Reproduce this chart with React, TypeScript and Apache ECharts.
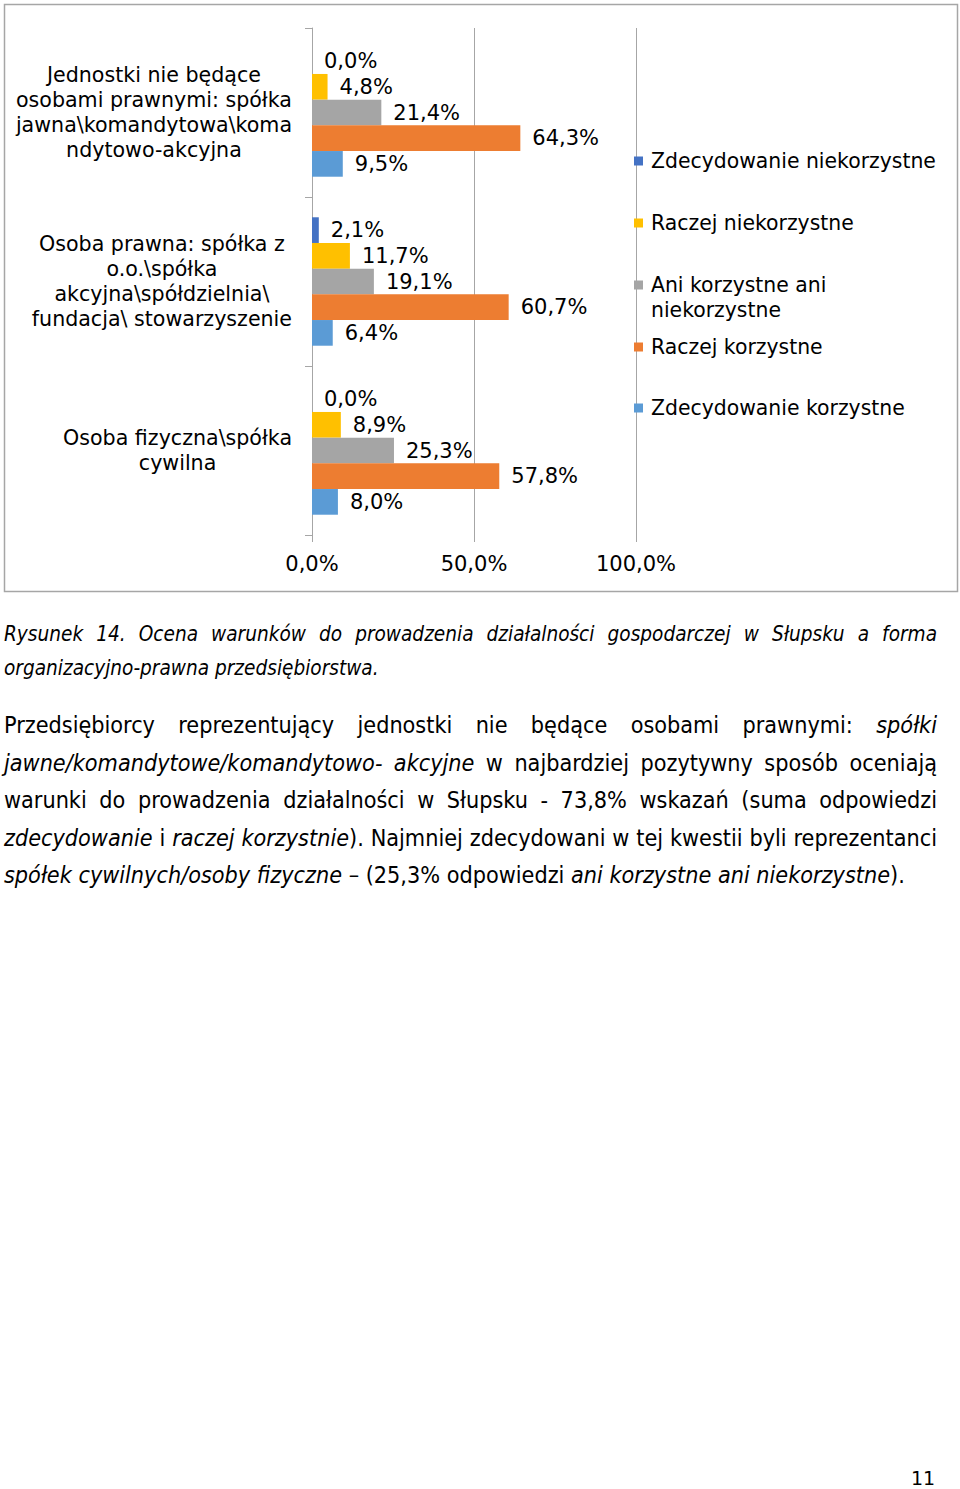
import React, { useEffect, useRef } from "react";
import * as echarts from "echarts";

// ---- data ----
const categories = [
  "Osoba fizyczna\\spółka\ncywilna",
  "Osoba prawna: spółka z\no.o.\\spółka\nakcyjna\\spółdzielnia\\\nfundacja\\ stowarzyszenie",
  "Jednostki nie będące\nosobami prawnymi: spółka\njawna\\komandytowa\\koma\nndytowo-akcyjna",
];
const seriesNames = [
  "Zdecydowanie niekorzystne",
  "Raczej niekorzystne",
  "Ani korzystne ani niekorzystne",
  "Raczej korzystne",
  "Zdecydowanie korzystne",
];
const legendLabels: Record<string, string> = {
  "Ani korzystne ani niekorzystne": "\nAni korzystne ani\nniekorzystne",
};
const zdecydowanieNiekorzystne = [0.0, 2.1, 0.0];
const raczejNiekorzystne = [8.9, 11.7, 4.8];
const aniKorzystneAniNiekorzystne = [25.3, 19.1, 21.4];
const raczejKorzystne = [57.8, 60.7, 64.3];
const zdecydowanieKorzystne = [8.0, 6.4, 9.5];
const seriesValues = [
  zdecydowanieNiekorzystne,
  raczejNiekorzystne,
  aniKorzystneAniNiekorzystne,
  raczejKorzystne,
  zdecydowanieKorzystne,
];
const xTicks = [0, 50, 100];

const colors = ["#4472C4", "#FFC000", "#A5A5A5", "#ED7D31", "#5B9BD5"];
const legendTops = [161, 223, 285, 347, 408];

const FONT = "'DejaVu Sans', Verdana, sans-serif";
const fmt = (v: number) => v.toFixed(1).replace(".", ",") + "%";

const captionLines = [
  "Rysunek 14. Ocena warunków do prowadzenia działalności gospodarczej w Słupsku a forma",
  "organizacyjno-prawna przedsiębiorstwa.",
];

type Seg = [string, boolean];
const paragraphLines: Seg[][] = [
  [["Przedsiębiorcy reprezentujący jednostki nie będące osobami prawnymi: ", false], ["spółki", true]],
  [["jawne/komandytowe/komandytowo- akcyjne", true], [" w najbardziej pozytywny sposób oceniają", false]],
  [["warunki do prowadzenia działalności w Słupsku - 73,8% wskazań (suma odpowiedzi", false]],
  [
    ["zdecydowanie", true],
    [" i ", false],
    ["raczej korzystnie", true],
    ["). Najmniej zdecydowani w tej kwestii byli reprezentanci", false],
  ],
  [
    ["spółek cywilnych/osoby fizyczne", true],
    [" – (25,3% odpowiedzi ", false],
    ["ani korzystne ani niekorzystne", true],
    [").", false],
  ],
];

function Chart() {
  const ref = useRef<HTMLDivElement>(null);
  useEffect(() => {
    if (!ref.current) return;
    const chart = echarts.init(ref.current, undefined, { renderer: "svg" });
    const gridColor = "#a6a6a6";
    chart.setOption({
      animation: false,
      backgroundColor: "#ffffff",
      textStyle: { fontFamily: FONT },
      graphic: [
        {
          type: "rect",
          shape: { x: 4.5, y: 4.5, width: 953, height: 587 },
          style: { fill: "none", stroke: "#a6a6a6", lineWidth: 1.5 },
          silent: true,
        },
      ],
      grid: { left: 312, right: 324, top: 28, bottom: 65, containLabel: false },
      xAxis: {
        type: "value",
        min: xTicks[0],
        max: xTicks[xTicks.length - 1],
        interval: xTicks[1] - xTicks[0],
        axisLine: { show: false },
        axisTick: { show: true, length: 7, lineStyle: { color: gridColor } },
        splitLine: { show: true, lineStyle: { color: gridColor, width: 1 } },
        axisLabel: {
          margin: 18,
          fontSize: 21,
          color: "#000",
          fontFamily: FONT,
          formatter: (v: number) => fmt(v),
        },
      },
      yAxis: {
        type: "category",
        data: categories,
        axisLine: { show: true, lineStyle: { color: gridColor } },
        axisTick: { show: true, length: 7, lineStyle: { color: gridColor } },
        splitLine: { show: false },
        axisLabel: {
          margin: 20,
          align: "right",
          formatter: (v: string) =>
            v
              .split("\n")
              .map((l) => "{c|" + l + "}")
              .join("\n"),
          rich: {
            c: { align: "center", fontSize: 20.6, lineHeight: 25, color: "#000", fontFamily: FONT },
          },
        },
      },
      legend: seriesNames.map((name, i) => ({
        data: [name],
        orient: "vertical",
        left: 634,
        top: legendTops[i] - (legendLabels[name] ? 37.5 : 12.5),
        icon: "rect",
        itemWidth: 9,
        itemHeight: 9,
        selectedMode: false,
        padding: 0,
        formatter: (n: string) => legendLabels[n] || n,
        textStyle: {
          fontSize: 20.4,
          lineHeight: 25,
          color: "#000",
          fontFamily: FONT,
          padding: [0, 0, 0, 3],
        },
      })),
      series: seriesNames.map((name, i) => ({
        name,
        type: "bar",
        data: seriesValues[i],
        barGap: "0%",
        barCategoryGap: "24%",
        itemStyle: { color: colors[i] },
        label: {
          show: true,
          position: "right",
          distance: 12,
          fontSize: 21,
          color: "#000",
          fontFamily: FONT,
          formatter: (p: any) => fmt(p.value),
        },
      })),
    });
    return () => chart.dispose();
  }, []);
  return (
    <div
      ref={ref}
      style={{ position: "absolute", left: 0, top: 0, width: 960, height: 600 }}
    />
  );
}

export default function App() {
  const textFont = "'DejaVu Sans Condensed', 'DejaVu Sans', sans-serif";
  return (
    <div
      style={{
        position: "absolute",
        left: 0,
        top: 0,
        width: 960,
        height: 1489,
        background: "#fff",
        overflow: "hidden",
        color: "#000",
      }}
    >
      <Chart />
      <div
        style={{
          position: "absolute",
          left: 4,
          top: 617,
          width: 933,
          fontFamily: textFont,
          fontStyle: "italic",
          fontSize: 20.6,
          lineHeight: "34px",
        }}
      >
        {captionLines.map((l, i) => (
          <div
            key={i}
            style={{
              whiteSpace: "nowrap",
              textAlign: "justify",
              textAlignLast: i < captionLines.length - 1 ? "justify" : "left",
            }}
          >
            {l}
          </div>
        ))}
      </div>
      <div
        style={{
          position: "absolute",
          left: 4,
          top: 706,
          width: 933,
          fontFamily: textFont,
          fontSize: 23.2,
          lineHeight: "37.5px",
        }}
      >
        {paragraphLines.map((segs, i) => (
          <div
            key={i}
            style={{
              whiteSpace: "nowrap",
              textAlign: "justify",
              textAlignLast: i < paragraphLines.length - 1 ? "justify" : "left",
            }}
          >
            {segs.map(([t, it], j) => (
              <span key={j} style={{ fontStyle: it ? "italic" : "normal" }}>
                {t}
              </span>
            ))}
          </div>
        ))}
      </div>
      <div
        style={{
          position: "absolute",
          left: 911,
          top: 1468,
          fontFamily: "'DejaVu Sans', Verdana, sans-serif",
          fontSize: 19,
          lineHeight: "20px",
        }}
      >
        11
      </div>
    </div>
  );
}
